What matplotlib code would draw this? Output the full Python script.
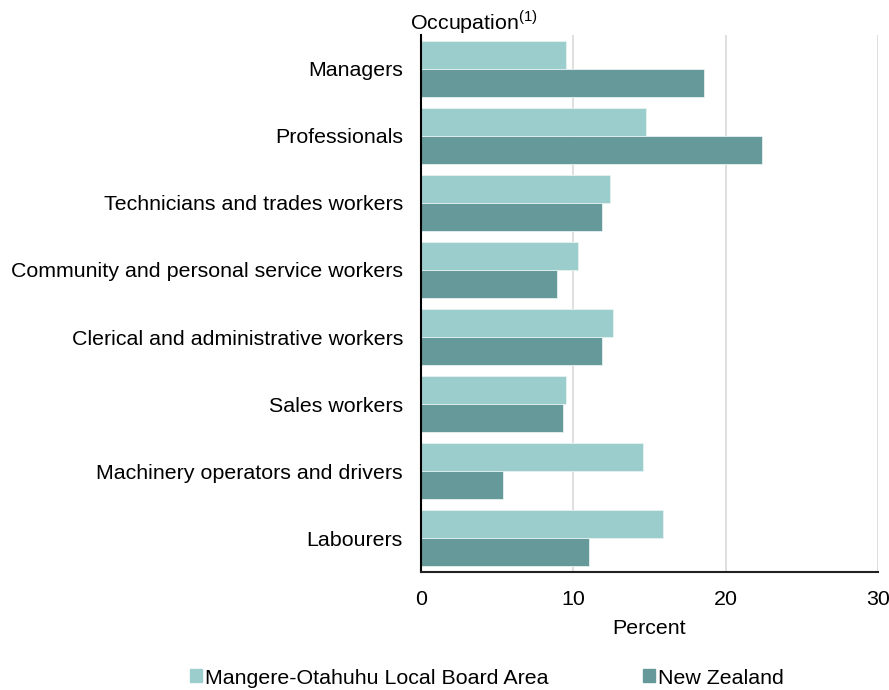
import matplotlib
matplotlib.use("Agg")
import matplotlib.pyplot as plt
import numpy as np
from matplotlib.patches import Patch

plt.rcParams['font.family'] = ['Liberation Sans', 'DejaVu Sans']

categories = ["Managers", "Professionals", "Technicians and trades workers",
              "Community and personal service workers", "Clerical and administrative workers",
              "Sales workers", "Machinery operators and drivers", "Labourers"]
local_vals = [9.5, 14.8, 12.4, 10.3, 12.6, 9.5, 14.6, 15.9]
nz_vals = [18.6, 22.4, 11.9, 8.9, 11.9, 9.3, 5.4, 11.0]
series_names = ["Mangere-Otahuhu Local Board Area", "New Zealand"]
x_ticks = [0, 10, 20, 30]

c_light = "#9BCDCD"
c_dark = "#669999"
FS = 15.4

fig = plt.figure(figsize=(8.89, 6.9), dpi=100)
ax = fig.add_axes([421 / 889, 1 - 572 / 690, (878 - 421) / 889, (572 - 35) / 690])

y = np.arange(len(categories))
h = 0.417
ax.barh(y - h / 2, local_vals, height=h, color=c_light, edgecolor="#E6F2F2", linewidth=0.6, zorder=2)
ax.barh(y + h / 2, nz_vals, height=h, color=c_dark, edgecolor="#E6F2F2", linewidth=0.6, zorder=2)

ax.set_ylim(len(categories) - 0.5, -0.5)
ax.set_xlim(0, 30)
ax.set_yticks(y)
ax.set_yticklabels(categories, fontsize=FS)
ax.set_xticks(x_ticks)
ax.set_xticklabels([str(t) for t in x_ticks], fontsize=FS)
ax.tick_params(axis='x', length=0, pad=13)
ax.tick_params(axis='y', length=0, pad=13)
ax.xaxis.grid(True, color="#D9D9D9", linewidth=1.2, zorder=0)
ax.set_axisbelow(True)
for s in ["top", "right"]:
    ax.spines[s].set_visible(False)
ax.spines["left"].set_color("black")
ax.spines["left"].set_linewidth(1.5)
ax.spines["left"].set_zorder(5)
ax.spines["bottom"].set_color("#222222")
ax.spines["bottom"].set_linewidth(1.5)
ax.spines["bottom"].set_zorder(5)
ax.set_xlabel("Percent", fontsize=FS, labelpad=7)

fig.text(410 / 889, 1 - 22 / 690, r"Occupation$^{\mathregular{(1)}}$", fontsize=FS,
         ha="left", va="center")

handles = [Patch(color=c_light), Patch(color=c_dark)]
fig.legend(handles, series_names, loc="center", bbox_to_anchor=(0.548, 1 - 678 / 690),
           ncol=2, frameon=False, fontsize=FS, handlelength=0.55, handleheight=0.55,
           handletextpad=0.15, columnspacing=4.4)

fig.savefig("out.png", dpi=100)
